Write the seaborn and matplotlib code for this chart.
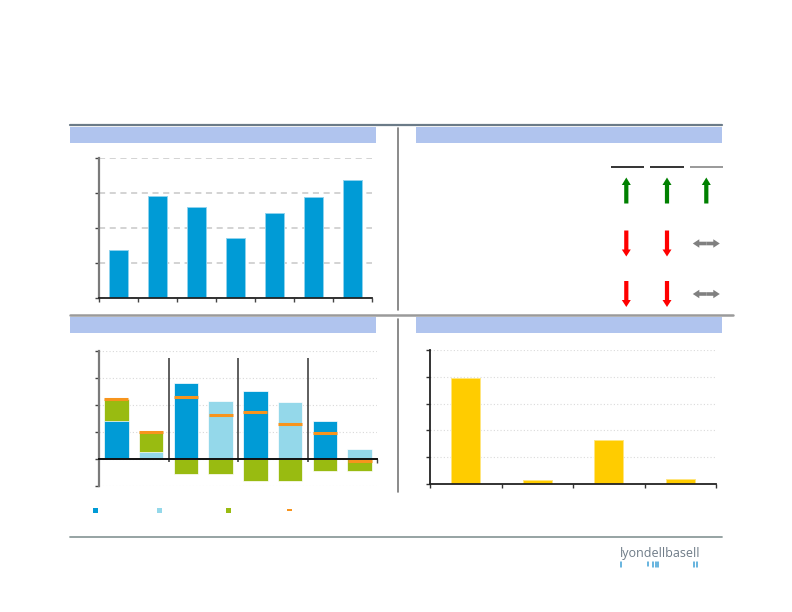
import numpy as np
import matplotlib
matplotlib.use("Agg")
import matplotlib.pyplot as plt
import seaborn as sns
from matplotlib.patches import Rectangle, FancyArrow

# ---------------- data ----------------
p1_categories = ["C1", "C2", "C3", "C4", "C5", "C6", "C7"]
p1_values = [1.37, 2.92, 2.59, 1.72, 2.42, 2.88, 3.36]

p3_categories = ["S1a", "S1b", "S2a", "S2b", "S3a", "S3b", "S4a", "S4b"]
p3_base_kind = ["dark", "light", "dark", "light", "dark", "light", "dark", "light"]
p3_base = [1.43, 0.26, 2.84, 2.17, 2.53, 2.11, 1.42, 0.38]
p3_green = [0.79, 0.74, -0.54, -0.54, -0.79, -0.79, -0.44, -0.44]
p3_net = [2.24, 1.01, 2.30, 1.63, 1.75, 1.32, 0.99, -0.05]

p4_categories = ["R1", "R2", "R3", "R4"]
p4_values = [3.96, 0.16, 1.63, 0.19]

p2_directions = [["up", "up", "up"],
                 ["down", "down", "flat"],
                 ["down", "down", "flat"]]

# ---------------- style ----------------
W, H = 792, 612
BLUE = "#009BD6"
LIGHT = "#94D8EA"
GREEN = "#99BB11"
ORANGE = "#F7941D"
YELLOW = "#FFCC00"
HEADER = "#B0C4EE"

sns.set_style("white")
plt.rcParams["font.family"] = ["DejaVu Sans"]
fig = plt.figure(figsize=(W / 100, H / 100), dpi=100)

def frac(x0, y0, x1, y1):
    return [x0 / W, 1 - y1 / H, (x1 - x0) / W, (y1 - y0) / H]

# overlay for page decorations (pixel coordinates)
ov = fig.add_axes([0, 0, 1, 1], zorder=0)
ov.set_xlim(0, W)
ov.set_ylim(H, 0)
ov.axis("off")

ov.plot([70, 722], [124.5, 124.5], color="#6B7B88", lw=1.6)
ov.plot([70, 733], [314.5, 314.5], color="#9A9A9A", lw=1.8)
ov.plot([70, 722], [537, 537], color="#8E9C9C", lw=1.3)
ov.plot([398, 398], [128, 310], color="#777777", lw=1.2)
ov.plot([398, 398], [319, 492], color="#777777", lw=1.2)
for (x0, y0, x1, y1) in [(70, 127, 376, 143), (416, 127, 722, 143),
                         (70, 317, 376, 333), (416, 317, 722, 333)]:
    ov.add_patch(Rectangle((x0, y0), x1 - x0, y1 - y0, color=HEADER, lw=0))

# panel 2: table header rules and direction arrows
col_x = [626.3, 667.0, 706.3]
col_span = [(610.7, 643.7), (650.3, 683.7), (690.3, 722.7)]
rule_colors = ["#333333", "#333333", "#999999"]
for (a, b), c in zip(col_span, rule_colors):
    ov.plot([a, b], [166.7, 166.7], color=c, lw=1.4, solid_capstyle="butt")
row_y = [190.5, 243.5, 294.0]
for r, row in enumerate(p2_directions):
    for c, d in enumerate(row):
        x, y = col_x[c], row_y[r]
        if d == "up":
            ov.add_patch(FancyArrow(x, y + 13, 0, -26, width=4.2, head_width=9,
                                    head_length=7.5, length_includes_head=True,
                                    color="#008000", lw=0))
        elif d == "down":
            ov.add_patch(FancyArrow(x, y - 13, 0, 26, width=4.2, head_width=9,
                                    head_length=7.0, length_includes_head=True,
                                    color="#FF0000", lw=0))
        else:
            for s in (-1, 1):
                ov.add_patch(FancyArrow(x, y, s * 13.5, 0, width=3.6, head_width=8.5,
                                        head_length=6.5, length_includes_head=True,
                                        color="#808080", lw=0))

# panel 3 legend marks
for lx, lc in [(95.7, BLUE), (159.0, LIGHT), (228.7, GREEN)]:
    ov.add_patch(Rectangle((lx - 2.5, 507.5), 5, 5, color=lc, lw=0))
ov.add_patch(Rectangle((286.5, 509.2), 5.5, 2, color=ORANGE, lw=0))

# logo
ov.text(660, 553, "lyondellbasell", ha="center", va="center", fontsize=9,
        color="#6E7B87", fontfamily="Open Sans")
for tx, th in [(620.7, 5), (648.3, 4), (653.0, 5), (655.7, 5), (658.3, 5),
               (694.3, 5), (697.3, 5)]:
    ov.plot([tx, tx], [561.5, 561.5 + th], color="#3FA1D6", lw=1.1)

# ---------------- panel 1 ----------------
ax1 = fig.add_axes(frac(99, 158, 372, 298), zorder=1)
sns.barplot(x=p1_categories, y=p1_values, color=BLUE, width=0.5, saturation=1,
            edgecolor="#8FD3EE", linewidth=0.7, ax=ax1)
ax1.set_xlim(-0.5, len(p1_categories) - 0.5)
ax1.set_ylim(0, 4)
ax1.set_yticks(range(0, 5))
ax1.set_xticks(np.arange(-0.5, len(p1_categories), 1))
ax1.set_xticklabels([])
ax1.set_yticklabels([])
ax1.set_xlabel("")
ax1.set_ylabel("")
ax1.yaxis.grid(True, linestyle=(0, (4, 3)), color="#C8C8C8", lw=1.1)
ax1.set_axisbelow(True)
ax1.patch.set_alpha(0)
for s in ["top", "right"]:
    ax1.spines[s].set_visible(False)
ax1.spines["left"].set_color("#7A7A7A")
ax1.spines["left"].set_linewidth(1.6)
ax1.spines["bottom"].set_color("#222222")
ax1.spines["bottom"].set_linewidth(1.3)
ax1.tick_params(axis="both", direction="out", length=3, width=1, colors="#444444",
                left=True, bottom=True)

# ---------------- panel 3 ----------------
ax3 = fig.add_axes(frac(99, 351.3, 377, 486.3), zorder=1)
base = np.array(p3_base)
green = np.array(p3_green)
green_top = np.where(green > 0, base + green, green)
base_colors = [BLUE if k == "dark" else LIGHT for k in p3_base_kind]
sns.barplot(x=p3_categories, y=green_top, color=GREEN, width=0.7, saturation=1,
            edgecolor="white", linewidth=0.5, ax=ax3)
sns.barplot(x=p3_categories, y=p3_base, hue=p3_categories, palette=base_colors,
            width=0.7, saturation=1, legend=False, edgecolor="white",
            linewidth=0.5, ax=ax3)
sns.pointplot(x=p3_categories, y=p3_net, color=ORANGE, linestyle="none",
              marker="_", markersize=17.5, markeredgewidth=2.2, errorbar=None,
              ax=ax3)
ax3.set_xlim(-0.5, len(p3_categories) - 0.5)
ax3.set_ylim(-1, 4)
ax3.set_yticks(range(-1, 5))
ax3.set_yticklabels([])
ax3.set_xticks([len(p3_categories) - 0.5])
ax3.set_xticklabels([])
ax3.set_xlabel("")
ax3.set_ylabel("")
ax3.yaxis.grid(True, linestyle=(0, (1, 2)), color="#D8D8D8", lw=0.8)
ax3.set_axisbelow(True)
ax3.patch.set_alpha(0)
for s in ["top", "right"]:
    ax3.spines[s].set_visible(False)
ax3.spines["bottom"].set_position(("data", 0))
ax3.spines["bottom"].set_color("#111111")
ax3.spines["bottom"].set_linewidth(1.4)
ax3.spines["bottom"].set_zorder(5)
ax3.spines["left"].set_color("#7A7A7A")
ax3.spines["left"].set_linewidth(1.6)
ax3.tick_params(axis="both", direction="out", length=3, width=1, colors="#444444",
                left=True, bottom=True)
ax3.vlines([1.5, 3.5, 5.5], -0.09, 3.75, color="#333333", lw=1.1, zorder=4)

# ---------------- panel 4 ----------------
ax4 = fig.add_axes(frac(430, 350, 716, 484), zorder=1)
sns.barplot(x=p4_categories, y=p4_values, color=YELLOW, width=0.4, saturation=1,
            edgecolor="#FFE680", linewidth=0.7, ax=ax4)
ax4.set_xlim(-0.5, len(p4_categories) - 0.5)
ax4.set_ylim(0, 5)
ax4.set_yticks(range(0, 6))
ax4.set_yticklabels([])
ax4.set_xticks(np.arange(-0.5, len(p4_categories), 1))
ax4.set_xticklabels([])
ax4.set_xlabel("")
ax4.set_ylabel("")
ax4.yaxis.grid(True, linestyle=(0, (1, 2)), color="#DADADA", lw=0.8)
ax4.set_axisbelow(True)
ax4.patch.set_alpha(0)
for s in ["top", "right"]:
    ax4.spines[s].set_visible(False)
ax4.spines["left"].set_color("#222222")
ax4.spines["left"].set_linewidth(1.3)
ax4.spines["bottom"].set_color("#222222")
ax4.spines["bottom"].set_linewidth(1.3)
ax4.tick_params(axis="both", direction="out", length=3, width=1, colors="#333333",
                left=True, bottom=True)

fig.savefig("out.png", dpi=100)
